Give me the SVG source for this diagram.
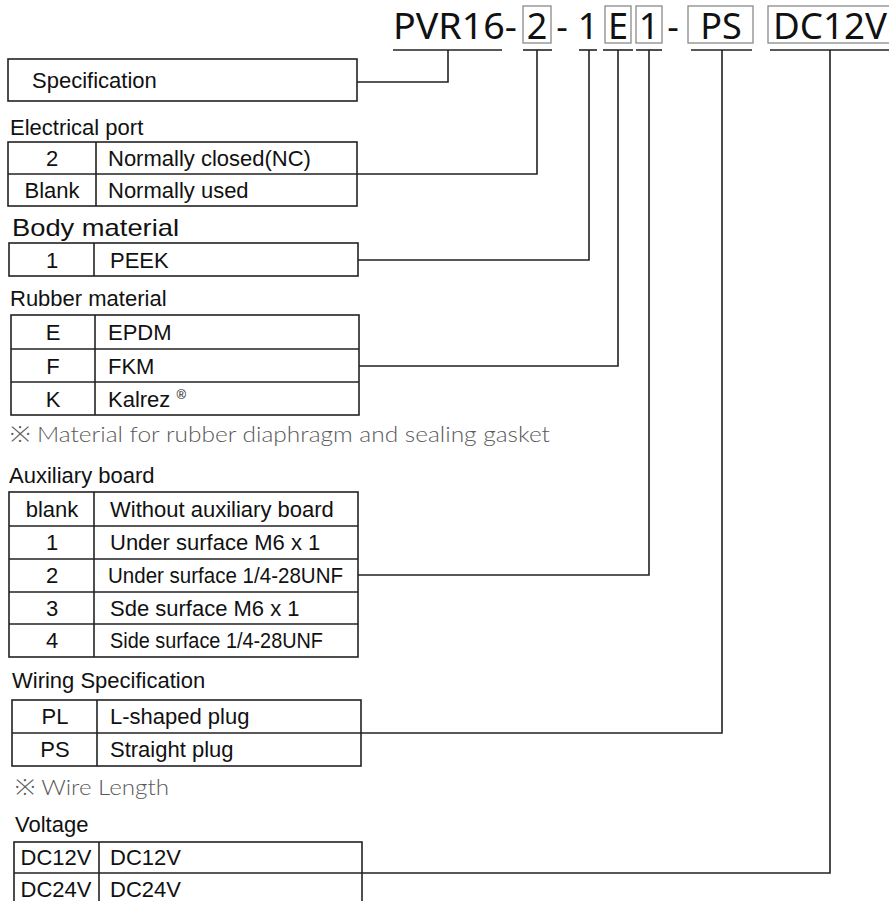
<svg xmlns="http://www.w3.org/2000/svg" width="889" height="901" viewBox="0 0 889 901">
<style>
.bg{fill:#fff}
.cell{fill:none;stroke:#222;stroke-width:1.6}
.conn{fill:none;stroke:#222;stroke-width:1.6}
.hbox{fill:none;stroke:#8a8a8a;stroke-width:1.3}
.ul{stroke:#222;stroke-width:1.6}
.t{font-family:"Liberation Sans",Arial,sans-serif;font-size:22px;fill:#111}
.c{text-anchor:middle}
.lbl{font-family:"Liberation Sans",Arial,sans-serif;font-size:22px;fill:#111}
.note{font-family:Lato,"Noto Sans",sans-serif;font-size:21px;font-weight:300;fill:#5a5a5a}
.hd{font-family:"Noto Sans","Open Sans",sans-serif;font-size:36px;fill:#111}
</style>
<rect class="bg" x="0" y="0" width="889" height="901"/>

<g id="header">
  <text class="hd" x="393" y="39" textLength="124" lengthAdjust="spacingAndGlyphs">PVR16-</text>
  <rect class="hbox" x="523" y="6" width="28" height="37"/>
  <text class="hd c" x="537" y="39">2</text>
  <text class="hd c" x="562" y="39">-</text>
  <text class="hd c" x="588" y="39">1</text>
  <rect class="hbox" x="605" y="6" width="26" height="37"/>
  <text class="hd c" x="618" y="39">E</text>
  <rect class="hbox" x="636" y="6" width="26" height="37"/>
  <text class="hd c" x="649" y="39">1</text>
  <text class="hd c" x="673" y="39">-</text>
  <rect class="hbox" x="688" y="6" width="65" height="37"/>
  <text class="hd c" x="721" y="39">PS</text>
  <rect class="hbox" x="768" y="6" width="125" height="37"/>
  <text class="hd c" x="830" y="39" textLength="114" lengthAdjust="spacingAndGlyphs">DC12V</text>
  <line class="ul" x1="393" y1="50" x2="502" y2="50"/>
  <line class="ul" x1="523" y1="50" x2="552" y2="50"/>
  <line class="ul" x1="579" y1="50" x2="597" y2="50"/>
  <line class="ul" x1="603" y1="50" x2="633" y2="50"/>
  <line class="ul" x1="636" y1="50" x2="662" y2="50"/>
  <line class="ul" x1="691" y1="50" x2="752" y2="50"/>
  <line class="ul" x1="770" y1="50" x2="889" y2="50"/>
</g>

<g id="connectors">
  <polyline class="conn" points="357,82 448,82 448,50"/>
  <polyline class="conn" points="357,174 537,174 537,50"/>
  <polyline class="conn" points="358,260 589,260 589,50"/>
  <polyline class="conn" points="359,366 618,366 618,50"/>
  <polyline class="conn" points="358,575 649,575 649,50"/>
  <polyline class="conn" points="361,733 722,733 722,50"/>
  <polyline class="conn" points="362,873 830,873 830,50"/>
</g>

<g id="specification">
  <rect class="cell" x="8" y="59" width="349" height="42"/>
  <text class="t" x="32" y="88">Specification</text>
</g>

<g id="electrical-port">
  <text class="lbl" x="10" y="135">Electrical port</text>
  <rect class="cell" x="8" y="142" width="349" height="64"/>
  <line class="cell" x1="8" y1="174" x2="357" y2="174"/>
  <line class="cell" x1="96" y1="142" x2="96" y2="206"/>
  <text class="t c" x="52" y="166">2</text>
  <text class="t" x="108" y="166">Normally closed(NC)</text>
  <text class="t c" x="52" y="198">Blank</text>
  <text class="t" x="108" y="198">Normally used</text>
</g>

<g id="body-material">
  <text class="lbl" x="12" y="236" style="font-size:24px" textLength="167" lengthAdjust="spacingAndGlyphs">Body material</text>
  <rect class="cell" x="9" y="243" width="349" height="33"/>
  <line class="cell" x1="94" y1="243" x2="94" y2="276"/>
  <text class="t c" x="52" y="268">1</text>
  <text class="t" x="110" y="268">PEEK</text>
</g>

<g id="rubber-material">
  <text class="lbl" x="10" y="306">Rubber material</text>
  <rect class="cell" x="11" y="315" width="348" height="100"/>
  <line class="cell" x1="11" y1="349" x2="359" y2="349"/>
  <line class="cell" x1="11" y1="382" x2="359" y2="382"/>
  <line class="cell" x1="95" y1="315" x2="95" y2="415"/>
  <text class="t c" x="53" y="340">E</text>
  <text class="t" x="108" y="340">EPDM</text>
  <text class="t c" x="53" y="374">F</text>
  <text class="t" x="108" y="374">FKM</text>
  <text class="t c" x="53" y="407">K</text>
  <text class="t" x="108" y="407">Kalrez <tspan style="font-size:13px" dy="-8">®</tspan></text>
  <text class="note" x="10" y="442" textLength="540" lengthAdjust="spacingAndGlyphs">※ Material for rubber diaphragm and sealing gasket</text>
</g>

<g id="auxiliary-board">
  <text class="lbl" x="9" y="483">Auxiliary board</text>
  <rect class="cell" x="9" y="492" width="349" height="165"/>
  <line class="cell" x1="9" y1="526" x2="358" y2="526"/>
  <line class="cell" x1="9" y1="559" x2="358" y2="559"/>
  <line class="cell" x1="9" y1="592" x2="358" y2="592"/>
  <line class="cell" x1="9" y1="624" x2="358" y2="624"/>
  <line class="cell" x1="94" y1="492" x2="94" y2="657"/>
  <text class="t c" x="52" y="517">blank</text>
  <text class="t" x="110" y="517">Without auxiliary board</text>
  <text class="t c" x="52" y="550">1</text>
  <text class="t" x="110" y="550">Under surface M6 x 1</text>
  <text class="t c" x="52" y="583">2</text>
  <text class="t" x="108" y="583" textLength="235" lengthAdjust="spacingAndGlyphs">Under surface 1/4-28UNF</text>
  <text class="t c" x="52" y="616">3</text>
  <text class="t" x="110" y="616">Sde surface M6 x 1</text>
  <text class="t c" x="52" y="648">4</text>
  <text class="t" x="110" y="648" textLength="213" lengthAdjust="spacingAndGlyphs">Side surface 1/4-28UNF</text>
</g>

<g id="wiring-specification">
  <text class="lbl" x="12" y="688">Wiring Specification</text>
  <rect class="cell" x="12" y="700" width="349" height="66"/>
  <line class="cell" x1="12" y1="733" x2="361" y2="733"/>
  <line class="cell" x1="97" y1="700" x2="97" y2="766"/>
  <text class="t c" x="55" y="724">PL</text>
  <text class="t" x="110" y="724">L-shaped plug</text>
  <text class="t c" x="55" y="757">PS</text>
  <text class="t" x="110" y="757">Straight plug</text>
  <text class="note" x="15" y="795" textLength="154" lengthAdjust="spacingAndGlyphs">※ Wire Length</text>
</g>

<g id="voltage">
  <text class="lbl" x="15" y="832">Voltage</text>
  <rect class="cell" x="14" y="842" width="348" height="70"/>
  <line class="cell" x1="14" y1="873" x2="362" y2="873"/>
  <line class="cell" x1="99" y1="842" x2="99" y2="912"/>
  <text class="t c" x="56" y="865">DC12V</text>
  <text class="t" x="110" y="865">DC12V</text>
  <text class="t c" x="56" y="897">DC24V</text>
  <text class="t" x="110" y="897">DC24V</text>
</g>
</svg>
